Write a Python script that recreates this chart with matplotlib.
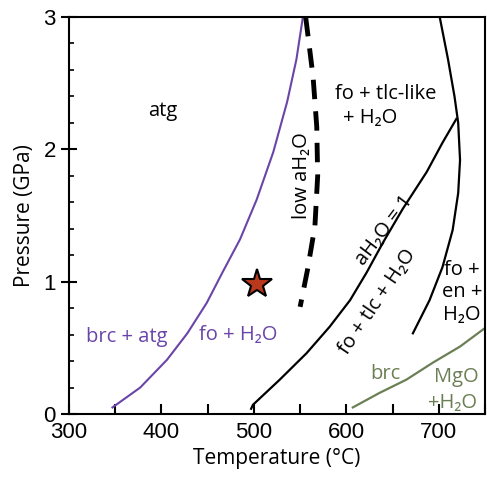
import numpy as np
import matplotlib.pyplot as plt
from matplotlib.ticker import MultipleLocator

plt.rcParams['font.family'] = ['Open Sans', 'DejaVu Sans']

# phase boundaries, T in degC and P in GPa
brc_atg_T = [347, 377, 406, 428, 449, 466, 485, 503, 521, 536, 546, 553]
brc_atg_P = [0.05, 0.20, 0.41, 0.61, 0.84, 1.07, 1.32, 1.62, 1.98, 2.36, 2.68, 3.0]

low_a_T = [556, 564, 568, 569, 566, 558, 550]
low_a_P = [3.0, 2.55, 2.17, 1.80, 1.42, 1.09, 0.81]

unit_a_T = [497, 499, 528, 557, 582, 604, 622, 640, 661, 687, 704, 719]
unit_a_P = [0.04, 0.07, 0.26, 0.46, 0.66, 0.86, 1.07, 1.30, 1.55, 1.83, 2.05, 2.23]

en_T = [701, 710, 717, 721, 723, 721, 715, 704, 690, 672]
en_P = [3.0, 2.68, 2.40, 2.20, 1.92, 1.67, 1.39, 1.11, 0.86, 0.61]

brc_T = [607, 636, 665, 694, 723, 750]
brc_P = [0.05, 0.16, 0.26, 0.39, 0.51, 0.65]

star_T, star_P = 503, 0.98

purple = '#6a45a8'
green = '#6b7f55'

fig = plt.figure(figsize=(4.87, 4.82), dpi=100)
ax = fig.add_axes([0.1417, 0.141, 0.8542, 0.8237])

ax.plot(brc_atg_T, brc_atg_P, color=purple, lw=1.5)
ax.plot(low_a_T, low_a_P, color='black', lw=3.5, dashes=(4, 2.5))
ax.plot(unit_a_T, unit_a_P, color='black', lw=1.6)
ax.plot(en_T, en_P, color='black', lw=1.6)
ax.plot(brc_T, brc_P, color=green, lw=1.6)
ax.plot(star_T, star_P, marker='*', ms=22, mfc='#b8391c', mec='black', mew=1.5)

ax.set_xlim(300, 750)
ax.set_ylim(0, 3)
ax.xaxis.set_major_locator(MultipleLocator(100))
ax.xaxis.set_minor_locator(MultipleLocator(50))
ax.yaxis.set_major_locator(MultipleLocator(1))
ax.yaxis.set_minor_locator(MultipleLocator(0.2))
ax.tick_params(axis='x', which='both', direction='in', length=7.5, width=1.5,
               labelsize=16, pad=6, top=False)
ax.tick_params(axis='y', which='major', direction='inout', length=12, width=1.5,
               labelsize=16, right=False)
ax.tick_params(axis='y', which='minor', direction='in', length=3.5, width=1.2,
               right=False)
for lab in ax.get_xticklabels() + ax.get_yticklabels():
    lab.set_family(['Liberation Sans'])
for s in ax.spines.values():
    s.set_linewidth(1.5)

ax.set_xlabel('Temperature (°C)', fontsize=15, labelpad=3)
ax.set_ylabel('Pressure (GPa)', fontsize=15, labelpad=6)

fs = 14.5
ax.text(401, 2.29, 'atg', fontsize=fs, ha='center', va='center')
ax.text(588, 2.42, 'fo + tlc-like', fontsize=fs, ha='left', va='center')
ax.text(596, 2.24, '+ H₂O', fontsize=fs, ha='left', va='center')
ax.text(552, 1.80, 'low aH₂O', fontsize=fs, rotation=90, ha='center', va='center')
ax.text(641, 1.39, 'aH₂O = 1', fontsize=fs, rotation=53, ha='center', va='center',
        rotation_mode='anchor')
ax.text(634, 0.85, 'fo + tlc + H₂O', fontsize=fs, rotation=56, ha='center', va='center',
        rotation_mode='anchor')
ax.text(725, 0.92, 'fo +\nen +\nH₂O', fontsize=fs, ha='center', va='center',
        linespacing=1.15)
ax.text(363, 0.58, 'brc + atg', fontsize=fs, color=purple, ha='center', va='center')
ax.text(483, 0.60, 'fo + H₂O', fontsize=fs, color=purple, ha='center', va='center')
ax.text(642, 0.30, 'brc', fontsize=fs, color=green, ha='center', va='center')
ax.text(719, 0.28, 'MgO', fontsize=fs, color=green, ha='center', va='center')
ax.text(715, 0.08, '+H₂O', fontsize=fs, color=green, ha='center', va='center')

fig.savefig('out.png', dpi=100)
